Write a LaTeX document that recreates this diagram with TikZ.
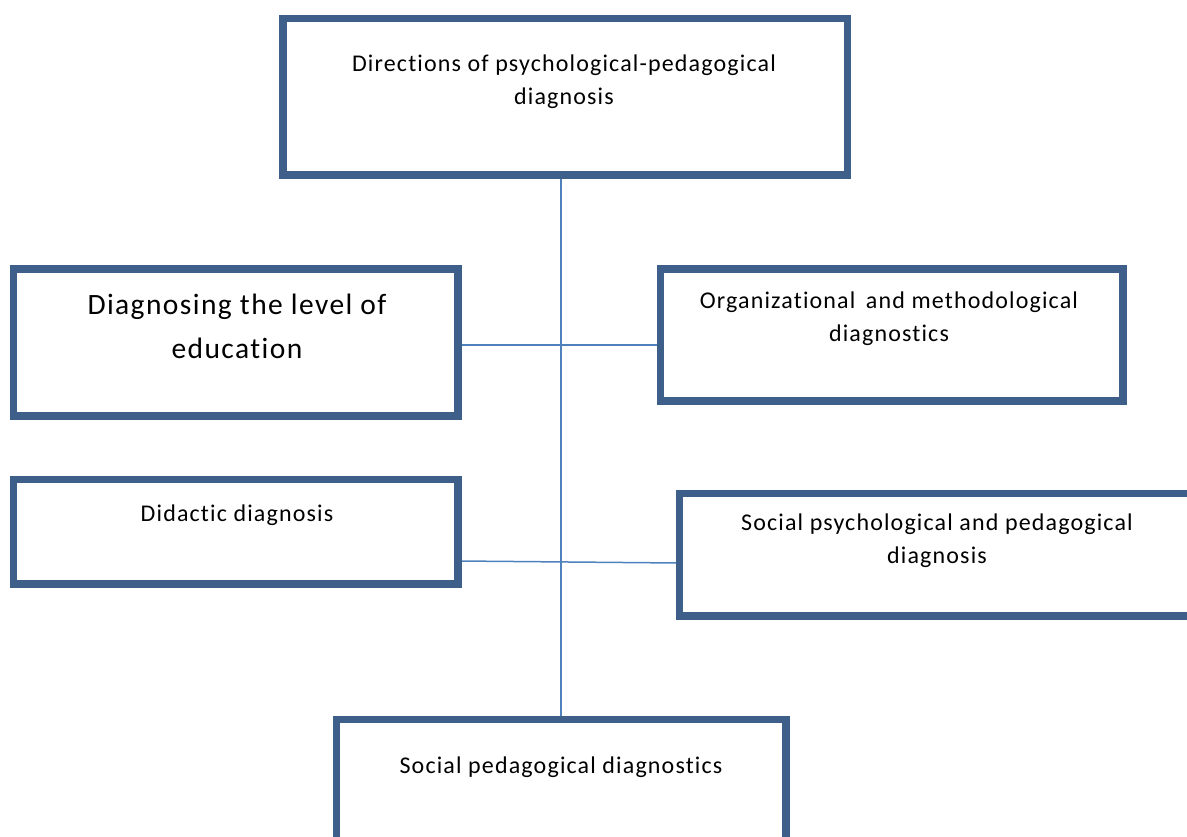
\documentclass[tikz,border=0pt]{standalone}
\usepackage{fontspec}
\setmainfont{Carlito}[LetterSpace=4.8, Ligatures={NoCommon}]
\definecolor{boxblue}{HTML}{3D5F8A}
\definecolor{lineblue}{HTML}{4F81BD}
\begin{document}
\begin{tikzpicture}[x=1pt,y=-1pt,
  box/.style={draw=boxblue, line width=5pt, rectangle, inner sep=0pt, fill=white},
  conn/.style={draw=lineblue, line width=1.5pt},
  txt/.style={align=center, inner sep=0pt, text=black, font=\fontsize{24}{33}\selectfont},
  bigtxt/.style={align=center, inner sep=0pt, text=black, font=\fontsize{29.5}{44}\selectfont}]
\useasboundingbox (0,0) rectangle (1187,837);
\clip (0,0) rectangle (1187,837);
\coordinate (spine) at (561,0);
\coordinate (h1) at (0,345);
\coordinate (h2l) at (0,561);
\coordinate (h2r) at (0,563);
\node[box, minimum width=562pt, minimum height=154pt] (top) at (565,97) {};
\node[box, minimum width=442pt, minimum height=144pt] (left1) at (235.5,342.5) {};
\node[box, minimum width=460pt, minimum height=129pt] (right1) at (891.5,335) {};
\node[box, minimum width=442pt, minimum height=102pt] (left2) at (235.5,531.5) {};
\node[box, minimum width=520pt, minimum height=120pt] (right2) at (940.5,554.5) {};
\node[box, minimum width=447pt, minimum height=160pt] (bottom) at (561,800.5) {};
\draw[conn] (top.south -| spine) -- (bottom.north -| spine);
\draw[conn] (left1.east |- h1) -- (right1.west |- h1);
\draw[conn] (left2.east |- h2l) -- (right2.west |- h2r);
\foreach \n in {top,left1,right1,left2,right2,bottom}{
  \draw[draw=boxblue, line width=5pt] (\n.north west) rectangle (\n.south east);
}
\node[txt] (toptxt) at (564,81.5) {Directions of psychological-pedagogical\\diagnosis};
\node[bigtxt] (left1txt) at (237,326) {Diagnosing the level of\\education};
\node[txt] (right1txt) at (889,319) {Organizational\, and methodological\\diagnostics};
\node[txt] (left2txt) at (237,515) {Didactic diagnosis};
\node[txt] (right2txt) at (937,541) {Social psychological and pedagogical\\diagnosis};
\node[txt] (bottomtxt) at (561,767) {Social pedagogical diagnostics};
\end{tikzpicture}
\end{document}
